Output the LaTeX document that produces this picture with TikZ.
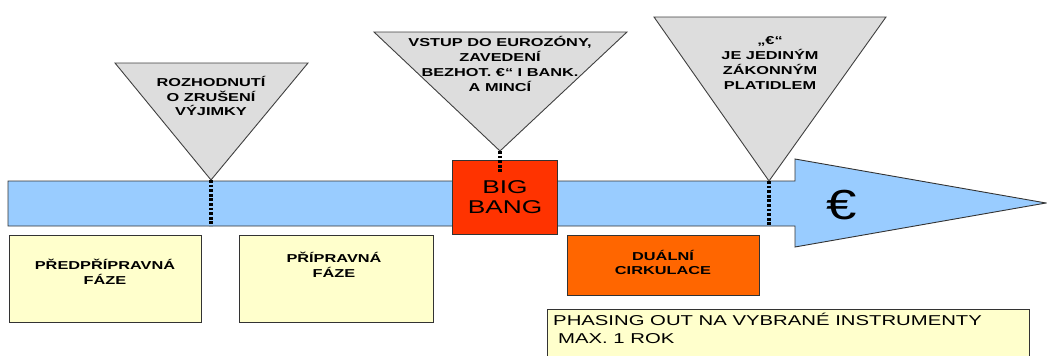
\documentclass[tikz,border=0pt]{standalone}
\usepackage{fontspec}
\setmainfont{Liberation Sans}[FakeStretch=1.42]
\newfontfamily\eurofont{Liberation Sans}[FakeStretch=1.3]
\usepackage{xcolor}
\usepackage{tikz}
\usetikzlibrary{calc}
\definecolor{timelineblue}{HTML}{99CCFF}
\definecolor{milestonegrey}{HTML}{DDDDDD}
\definecolor{phaseyellow}{HTML}{FFFFCC}
\definecolor{bangred}{HTML}{FF3300}
\definecolor{dualorange}{HTML}{FF6600}

\begin{document}
\begin{tikzpicture}[x=1pt,y=-1pt,
    milestone/.style={draw=black!75,fill=milestonegrey,line width=0.9pt},
    phasebox/.style={draw=black!80,line width=1.1pt,anchor=north west,inner sep=0pt},
    smalltext/.style={font=\bfseries\fontsize{11.5}{14.8}\selectfont,align=center,inner sep=0pt},
    tick/.style={line width=3.4pt,dash pattern=on 2.8pt off 1.8pt}]
    \clip (0,0) rectangle (1047,356);
    \draw[draw=black!80,fill=timelineblue,line width=0.9pt] (8,181) -- (795,181) -- (795,159) -- (1046,203) -- (795,247) -- (795,226) -- (8,226) -- cycle;
    \node[inner sep=0pt,font=\eurofont\fontsize{42}{42}\selectfont] (euro) at (842,205) {€};
    \draw[milestone] (115,63) -- (308,63) -- (211,180) -- cycle;
    \draw[milestone] (374,32) -- (627,32) -- (500,151) -- cycle;
    \draw[milestone] (654,17) -- (886,17) -- (769,181) -- cycle;
    \coordinate (tip1) at (211,180);
    \coordinate (tip2) at (500,151);
    \coordinate (tip3) at (769,181);
    \node[smalltext] (decision) at (211,96) {ROZHODNUTÍ\\O ZRUŠENÍ\\VÝJIMKY};
    \node[smalltext] (entry) at (500,64) {VSTUP DO EUROZÓNY,\\ZAVEDENÍ\\BEZHOT. €“ I BANK.\\A  MINCÍ};
    \node[smalltext] (soletender) at (770,63) {„€“\\JE JEDINÝM\\ZÁKONNÝM\\PLATIDLEM};
    \node[phasebox,fill=bangred,minimum width=105pt,minimum height=74pt] (bigbang) at (452,160) {};
    \node[inner sep=0pt,align=center,font=\fontsize{18.5}{20}\selectfont] (bigbangtxt) at (505,197.5) {BIG\\BANG};
    \node[phasebox,fill=phaseyellow,minimum width=192pt,minimum height=87pt] (prephase) at (9,235) {};
    \node[smalltext] (prephasetxt) at (105,272) {PŘEDPŘÍPRAVNÁ\\FÁZE};
    \node[phasebox,fill=phaseyellow,minimum width=194pt,minimum height=87pt] (prepphase) at (239,235) {};
    \node[smalltext] (prepphasetxt) at (334,264.5) {PŘÍPRAVNÁ\\FÁZE};
    \node[phasebox,fill=dualorange,minimum width=192pt,minimum height=60pt] (dualcirc) at (567,235) {};
    \node[smalltext] (dualcirctxt) at (663,262.5) {DUÁLNÍ\\CIRKULACE};
    \node[phasebox,fill=phaseyellow,minimum width=482pt,minimum height=60pt] (phaseout) at (547,309) {};
    \node[anchor=base west,inner sep=0pt,font=\fontsize{14.3}{18}\selectfont] (phaseout1) at (553,325) {PHASING OUT NA VYBRANÉ INSTRUMENTY};
    \node[anchor=base west,inner sep=0pt,font=\fontsize{14.3}{18}\selectfont] (phaseout2) at (558,343) {MAX. 1 ROK};
    \coordinate (foot1) at (211,226);
    \coordinate (foot2) at (500,172);
    \coordinate (foot3) at (769,226);
    \draw[tick] (tip1) -- (foot1);
    \draw[tick] (tip2) -- (foot2);
    \draw[tick] (tip3) -- (foot3);
\end{tikzpicture}
\end{document}
